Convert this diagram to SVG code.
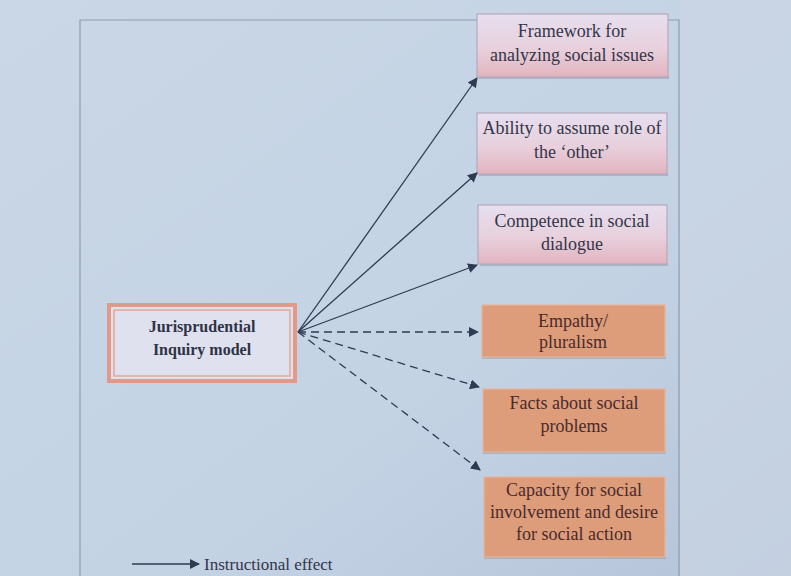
<svg xmlns="http://www.w3.org/2000/svg" width="791" height="576" viewBox="0 0 791 576">
<defs>
<linearGradient id="bg" x1="0" y1="0" x2="1" y2="1">
<stop offset="0" stop-color="#c9d7e6"/>
<stop offset="0.6" stop-color="#c4d3e4"/>
<stop offset="1" stop-color="#b4c3d8"/>
</linearGradient>
<linearGradient id="pink" x1="0" y1="0" x2="0" y2="1">
<stop offset="0" stop-color="#e6dff0"/>
<stop offset="0.55" stop-color="#e8d0dc"/>
<stop offset="1" stop-color="#e2b4bf"/>
</linearGradient>
<marker id="ah" viewBox="0 0 10 10" refX="9" refY="5" markerWidth="10" markerHeight="10" markerUnits="userSpaceOnUse" orient="auto">
<path d="M0,0 L10,5 L0,10 z" fill="#2e3b52"/>
</marker>
</defs>
<style>
.t{font-family:"Liberation Serif","Times New Roman",serif;font-size:18px;fill:#33364a;text-anchor:middle}
.to{font-family:"Liberation Serif","Times New Roman",serif;font-size:18px;fill:#4a2a2a;text-anchor:middle}
.tb{font-family:"Liberation Serif","Times New Roman",serif;font-size:16px;font-weight:bold;fill:#2f3346;text-anchor:middle}
.pk{fill:url(#pink);stroke:#b7a9b8;stroke-width:1.2}
.or{fill:#dd9d7b;stroke:#e6b49a;stroke-width:1.2}
.sh{fill:#8e9bb0;opacity:0.55}
.c{fill:none;stroke:#2e3b52;stroke-width:1.3;marker-end:url(#ah)}
.d{stroke-dasharray:8 5}
</style>
<rect x="0" y="0" width="791" height="576" fill="url(#bg)"/>
<rect x="680" y="0" width="111" height="576" fill="#cad6e4" opacity="0.7"/>
<path d="M80,576 L80,20 L679,20 L679,576" fill="none" stroke="#8f9cb0" stroke-width="1.2"/>

<g id="framework">
<rect class="sh" x="479" y="76" width="190" height="3"/>
<rect class="pk" x="477" y="14" width="191" height="63"/>
<text class="t" x="572" y="37">Framework for</text>
<text class="t" x="572" y="61">analyzing social issues</text>
</g>
<g id="ability">
<rect class="sh" x="479" y="173" width="189" height="3"/>
<rect class="pk" x="477" y="113" width="190" height="61"/>
<text class="t" x="572" y="134">Ability to assume role of</text>
<text class="t" x="572" y="158">the ‘other’</text>
</g>
<g id="competence">
<rect class="sh" x="480" y="263" width="188" height="3"/>
<rect class="pk" x="478" y="205" width="189" height="59"/>
<text class="t" x="572" y="227">Competence in social</text>
<text class="t" x="572" y="250">dialogue</text>
</g>
<g id="empathy">
<rect class="sh" x="482" y="356" width="184" height="3"/>
<rect class="or" x="482" y="305" width="183" height="52"/>
<text class="to" x="573" y="327">Empathy/</text>
<text class="to" x="573" y="348">pluralism</text>
</g>
<g id="facts">
<rect class="sh" x="483" y="451" width="183" height="3"/>
<rect class="or" x="483" y="389" width="182" height="63"/>
<text class="to" x="574" y="409">Facts about social</text>
<text class="to" x="574" y="432">problems</text>
</g>
<g id="capacity">
<rect class="sh" x="484" y="556" width="182" height="3"/>
<rect class="or" x="484" y="477" width="181" height="80"/>
<text class="to" x="574" y="496">Capacity for social</text>
<text class="to" x="574" y="518">involvement and desire</text>
<text class="to" x="574" y="540">for social action</text>
</g>
<g id="jurisprudential">
<rect x="109" y="305" width="186" height="76" fill="#dfe2ee" stroke="#e19a88" stroke-width="4"/>
<rect x="114" y="310" width="176" height="66" fill="none" stroke="#e5a898" stroke-width="1.5"/>
<text class="tb" x="202" y="332">Jurisprudential</text>
<text class="tb" x="202" y="355">Inquiry model</text>
</g>
<g id="connectors">
<line class="c" x1="298" y1="332" x2="477" y2="78"/>
<line class="c" x1="298" y1="332" x2="477" y2="173"/>
<line class="c" x1="298" y1="332" x2="477" y2="265"/>
<line class="c d" x1="298" y1="332" x2="478" y2="332"/>
<line class="c d" x1="298" y1="332" x2="479" y2="387"/>
<line class="c d" x1="298" y1="332" x2="480" y2="470"/>
</g>
<g id="legend">
<line class="c" x1="132" y1="564" x2="199" y2="564"/>
<text x="204" y="570" style="font-family:'Liberation Serif','Times New Roman',serif;font-size:17px;fill:#33364a">Instructional effect</text>
</g>
</svg>
